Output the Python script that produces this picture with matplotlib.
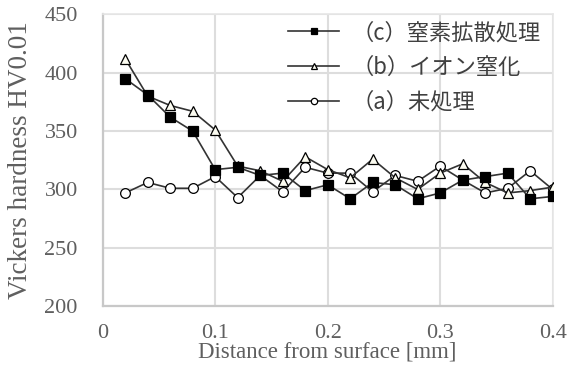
import numpy as np
import matplotlib
matplotlib.use("Agg")
import matplotlib.pyplot as plt


# ==========================
# Data
# ==========================

distance = [0.02, 0.04, 0.06, 0.08, 0.10, 0.12, 0.14, 0.16, 0.18, 0.20,
            0.22, 0.24, 0.26, 0.28, 0.30, 0.32, 0.34, 0.36, 0.38, 0.40]

hv_c = [395, 381, 362, 350, 317, 319, 312, 314, 299, 304,
        292, 306, 304, 292, 297, 308, 311, 314, 292, 294]

hv_b = [412, 380, 372, 367, 351, 320, 316, 307, 328, 317,
        310, 326, 310, 300, 314, 322, 306, 297, 299, 302]

hv_a = [297, 306, 301, 301, 311, 293, 312, 298, 319, 314,
        314, 298, 312, 307, 320, 308, 297, 301, 316, 300]

labels = ["（c）窒素拡散処理", "（b）イオン窒化", "（a）未処理"]

x_ticks = [0, 0.1, 0.2, 0.3, 0.4]
x_tick_labels = ["0", "0.1", "0.2", "0.3", "0.4"]
y_ticks = [200, 250, 300, 350, 400, 450]


# ==========================
# Plot
# ==========================

serif = ["Liberation Serif", "DejaVu Serif"]
jp = ["Noto Sans CJK JP", "DejaVu Sans"]
text_grey = "#5f5f5f"

fig = plt.figure(figsize=(5.79, 3.67), dpi=100)
ax = fig.add_axes([0.1774, 0.166, 0.7772, 0.7945])

line_kw = dict(color="#333333", lw=1.2, markeredgecolor="black",
               markeredgewidth=0.9)

ax.plot(distance, hv_c, marker="s", ms=6.5, markerfacecolor="black",
        label=labels[0], zorder=5, **line_kw)
ax.plot(distance, hv_b, marker="^", ms=7.5, markerfacecolor="#fbfbf0",
        label=labels[1], zorder=4, **line_kw)
ax.plot(distance, hv_a, marker="o", ms=7, markerfacecolor="white",
        label=labels[2], zorder=3, **line_kw)

ax.set_xlim(0, 0.4)
ax.set_ylim(200, 450)
ax.set_xticks(x_ticks)
ax.set_xticklabels(x_tick_labels)
ax.set_yticks(y_ticks)

ax.tick_params(length=0, labelsize=16, labelcolor=text_grey)
ax.tick_params(axis="y", pad=18)
ax.tick_params(axis="x", pad=13)
for lab in ax.get_xticklabels() + ax.get_yticklabels():
    lab.set_fontfamily(serif)

ax.grid(True, color="#dddddd", lw=1.5)
ax.set_axisbelow(True)
for side in ["top", "right"]:
    ax.spines[side].set_color("#e6e6e6")
    ax.spines[side].set_linewidth(1.2)
for side in ["left", "bottom"]:
    ax.spines[side].set_color("#c8c8c8")
    ax.spines[side].set_linewidth(1.6)

ax.set_ylabel("Vickers hardness HV0.01", fontsize=19.5, color=text_grey,
              family=serif)
ax.yaxis.set_label_coords(-0.155, 0.5)
ax.set_xlabel("Distance from surface [mm]", fontsize=16.5, color=text_grey,
              family=serif)
ax.xaxis.set_label_coords(0.5, -0.122)

leg = ax.legend(loc="upper right", bbox_to_anchor=(0.998, 1.015),
                frameon=False, prop={"family": jp, "size": 16},
                handlelength=2.3, handletextpad=0.55, labelspacing=0.52,
                markerscale=0.65, borderaxespad=0.1)
for t in leg.get_texts():
    t.set_color("#404040")

fig.savefig("out.png", dpi=100)
plt.close(fig)
